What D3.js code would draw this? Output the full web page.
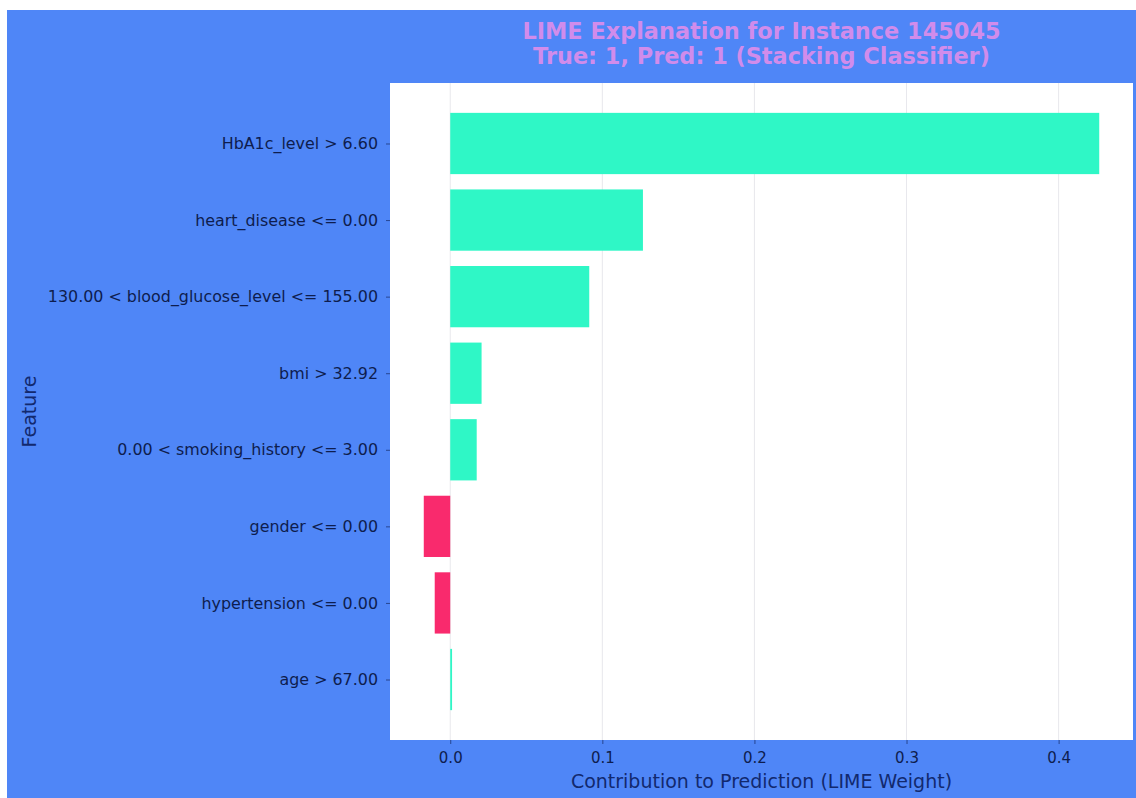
<!DOCTYPE html>
<html>
<head>
<meta charset="utf-8">
<script src="https://cdn.jsdelivr.net/npm/d3@7"></script>
<style>
  html, body { margin: 0; padding: 0; background: #ffffff; }
  svg { display: block; }
  text { font-family: "DejaVu Sans", sans-serif; }
</style>
</head>
<body>
<script>
// LIME feature contributions for a single instance
const features = [
  "HbA1c_level > 6.60",
  "heart_disease <= 0.00",
  "130.00 < blood_glucose_level <= 155.00",
  "bmi > 32.92",
  "0.00 < smoking_history <= 3.00",
  "gender <= 0.00",
  "hypertension <= 0.00",
  "age > 67.00"
];
const weights = [0.4267, 0.1267, 0.0914, 0.0206, 0.0174, -0.0174, -0.0102, 0.0012];
const xTicks = [0.0, 0.1, 0.2, 0.3, 0.4];
const titleLines = ["LIME Explanation for Instance 145045", "True: 1, Pred: 1 (Stacking Classifier)"];

const W = 1136, H = 798;
const fig = { x: 7, y: 10 };
const plot = { left: 390, right: 1133, top: 83, bottom: 740 };

const svg = d3.select("body").append("svg")
  .attr("width", W).attr("height", H);

svg.append("rect").attr("x", 0).attr("y", 0).attr("width", W).attr("height", H).attr("fill", "#ffffff");
svg.append("rect").attr("x", fig.x).attr("y", fig.y).attr("width", W - fig.x).attr("height", H - fig.y).attr("fill", "#4f86f7");

// plot background
svg.append("rect")
  .attr("x", plot.left).attr("y", plot.top)
  .attr("width", plot.right - plot.left).attr("height", plot.bottom - plot.top)
  .attr("fill", "#ffffff");

// x scale with 5% padding around the data range
const lo = Math.min(0, d3.min(weights)), hi = Math.max(0, d3.max(weights));
const pad = (hi - lo) * 0.05;
const x = d3.scaleLinear().domain([lo - pad, hi + pad]).range([plot.left, plot.right]);

// y: bars of height 0.8 at integer positions, 5% padding
const n = features.length;
const yLo = -0.4, yHi = n - 1 + 0.4, yPad = (yHi - yLo) * 0.05;
const y = d3.scaleLinear().domain([yLo - yPad, yHi + yPad]).range([plot.top, plot.bottom]);

// vertical gridlines
svg.append("g").selectAll("line").data(xTicks).join("line")
  .attr("x1", d => x(d)).attr("x2", d => x(d))
  .attr("y1", plot.top).attr("y2", plot.bottom)
  .attr("stroke", "#b0b0c0").attr("stroke-opacity", 0.3).attr("stroke-width", 1);

// bars
svg.append("g").selectAll("rect").data(weights).join("rect")
  .attr("x", d => x(Math.min(0, d)))
  .attr("width", d => Math.abs(x(d) - x(0)))
  .attr("y", (d, i) => y(i - 0.4))
  .attr("height", (d, i) => y(i + 0.4) - y(i - 0.4))
  .attr("fill", d => d >= 0 ? "#2ff7c6" : "#f92a6d");

const tickColor = "#0e1d4e";

// x axis
const xAxis = d3.axisBottom(x).tickValues(xTicks).tickFormat(d3.format(".1f")).tickSize(4).tickPadding(8);
const gx = svg.append("g").attr("transform", `translate(0,${plot.bottom})`).call(xAxis);
gx.select(".domain").remove();
gx.selectAll(".tick line").attr("stroke", tickColor).attr("stroke-opacity", 0.6);
gx.selectAll(".tick text").attr("fill", tickColor).attr("font-size", 15).attr("font-family", "DejaVu Sans");

// y axis
const yAxis = d3.axisLeft(y).tickValues(d3.range(n)).tickFormat(i => features[i]).tickSize(4).tickPadding(8);
const gy = svg.append("g").attr("transform", `translate(${plot.left},0)`).call(yAxis);
gy.select(".domain").remove();
gy.selectAll(".tick line").attr("stroke", tickColor).attr("stroke-opacity", 0.6);
gy.selectAll(".tick text").attr("fill", tickColor).attr("font-size", 15.9).attr("font-family", "DejaVu Sans");

// axis titles
svg.append("text")
  .attr("x", (plot.left + plot.right) / 2).attr("y", 788)
  .attr("text-anchor", "middle").attr("font-size", 19).attr("fill", "#12296e")
  .text("Contribution to Prediction (LIME Weight)");

svg.append("text")
  .attr("transform", `translate(36,${(plot.top + plot.bottom) / 2}) rotate(-90)`)
  .attr("text-anchor", "middle").attr("font-size", 19).attr("fill", "#12296e")
  .text("Feature");

// title
svg.append("g").selectAll("text").data(titleLines).join("text")
  .attr("x", (plot.left + plot.right) / 2)
  .attr("y", (d, i) => 39 + i * 25)
  .attr("text-anchor", "middle").attr("font-size", 22.4).attr("font-weight", "bold")
  .attr("fill", "#d18ceb")
  .text(d => d);
</script>
</body>
</html>
